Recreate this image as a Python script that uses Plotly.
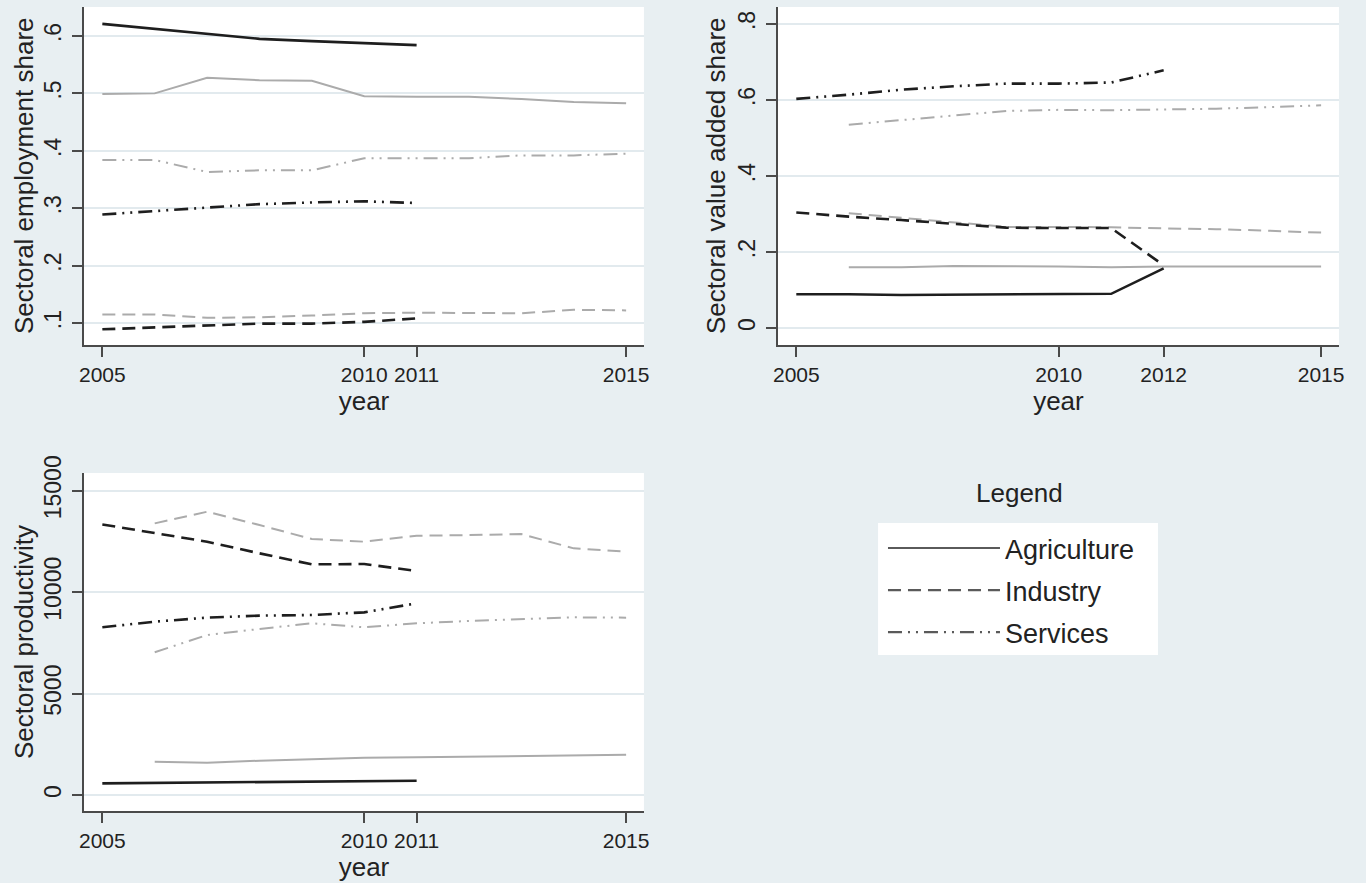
import plotly.graph_objects as go

# ---------------- data ----------------
years_a_emp = [2005, 2006, 2007, 2008, 2009, 2010, 2011]
years_b_emp = [2005, 2006, 2007, 2008, 2009, 2010, 2011, 2012, 2013, 2014, 2015]
emp_agri_a = [0.621, 0.612, 0.603, 0.595, 0.591, 0.587, 0.584]
emp_ind_a = [0.089, 0.092, 0.095, 0.099, 0.099, 0.102, 0.108]
emp_serv_a = [0.289, 0.295, 0.301, 0.307, 0.310, 0.312, 0.309]
emp_agri_b = [0.499, 0.500, 0.527, 0.523, 0.522, 0.495, 0.494, 0.494, 0.490, 0.485, 0.483]
emp_ind_b = [0.115, 0.115, 0.109, 0.110, 0.113, 0.117, 0.118, 0.118, 0.117, 0.123, 0.122]
emp_serv_b = [0.384, 0.384, 0.363, 0.366, 0.366, 0.387, 0.387, 0.387, 0.392, 0.392, 0.395]

years_a_va = [2005, 2006, 2007, 2008, 2009, 2010, 2011, 2012]
years_b_va = [2006, 2007, 2008, 2009, 2010, 2011, 2012, 2013, 2014, 2015]
va_agri_a = [0.089, 0.089, 0.087, 0.088, 0.089, 0.090, 0.090, 0.157]
va_ind_a = [0.304, 0.293, 0.284, 0.274, 0.264, 0.263, 0.263, 0.165]
va_serv_a = [0.603, 0.614, 0.627, 0.636, 0.643, 0.643, 0.646, 0.678]
va_agri_b = [0.160, 0.160, 0.163, 0.163, 0.162, 0.160, 0.162, 0.162, 0.162, 0.162]
va_ind_b = [0.302, 0.290, 0.277, 0.266, 0.266, 0.265, 0.262, 0.260, 0.256, 0.251]
va_serv_b = [0.535, 0.547, 0.560, 0.571, 0.574, 0.573, 0.575, 0.577, 0.581, 0.586]

years_a_prod = [2005, 2006, 2007, 2008, 2009, 2010, 2011]
years_b_prod = [2006, 2007, 2008, 2009, 2010, 2011, 2012, 2013, 2014, 2015]
prod_agri_a = [575, 591, 608, 624, 640, 657, 706]
prod_ind_a = [13340, 12898, 12488, 11913, 11371, 11388, 11043]
prod_serv_a = [8268, 8547, 8744, 8842, 8875, 9006, 9450]
prod_agri_b = [1642, 1593, 1691, 1757, 1839, 1856, 1888, 1921, 1954, 1987]
prod_ind_b = [13391, 13966, 13309, 12619, 12488, 12783, 12816, 12865, 12159, 11995]
prod_serv_b = [7036, 7890, 8186, 8465, 8268, 8465, 8580, 8679, 8760, 8744]

sectors = ["Agriculture", "Industry", "Services"]

emp_ticks = [0.1, 0.2, 0.3, 0.4, 0.5, 0.6]
emp_ticklabels = [".1", ".2", ".3", ".4", ".5", ".6"]
va_ticks = [0, 0.2, 0.4, 0.6, 0.8]
va_ticklabels = ["0", ".2", ".4", ".6", ".8"]
prod_ticks = [0, 5000, 10000, 15000]
prod_ticklabels = ["0", "5000", "10000", "15000"]
xticks_1 = [2005, 2010, 2011, 2015]
xticks_2 = [2005, 2010, 2012, 2015]

y_titles = ["Sectoral employment share", "Sectoral value added share", "Sectoral productivity"]

# ---------------- styles ----------------
FONT = "Liberation Sans, Arial, sans-serif"
BG = "#e8eff2"
GRID = "#e2eaee"
AXIS = "#4a4a4a"
DARK = "#1e1e1e"
LIGHT = "#ababab"
TEXT = "#222222"
DASHES = {
    "Agriculture": "solid",
    "Industry": "13px,7px",
    "Services": "14px,6px,2px,6px,2px,6px",
}

fig = go.Figure()


def add_series(xs, ys, sector, color, width, axis_suffix):
    fig.add_trace(go.Scatter(
        x=xs, y=ys, mode="lines",
        line=dict(color=color, width=width, dash=DASHES[sector]),
        xaxis="x" + axis_suffix, yaxis="y" + axis_suffix,
        showlegend=False, hoverinfo="x+y", name=sector,
    ))


# panel 1: employment share
add_series(years_a_emp, emp_agri_a, "Agriculture", DARK, 2.6, "")
add_series(years_b_emp, emp_agri_b, "Agriculture", LIGHT, 2, "")
add_series(years_b_emp, emp_serv_b, "Services", LIGHT, 2, "")
add_series(years_a_emp, emp_serv_a, "Services", DARK, 2.6, "")
add_series(years_b_emp, emp_ind_b, "Industry", LIGHT, 2, "")
add_series(years_a_emp, emp_ind_a, "Industry", DARK, 2.6, "")

# panel 2: value added share
add_series(years_b_va, va_serv_b, "Services", LIGHT, 2, "2")
add_series(years_a_va, va_serv_a, "Services", DARK, 2.6, "2")
add_series(years_b_va, va_ind_b, "Industry", LIGHT, 2, "2")
add_series(years_a_va, va_ind_a, "Industry", DARK, 2.6, "2")
add_series(years_b_va, va_agri_b, "Agriculture", LIGHT, 2, "2")
add_series(years_a_va, va_agri_a, "Agriculture", DARK, 2.6, "2")

# panel 3: productivity
add_series(years_b_prod, prod_ind_b, "Industry", LIGHT, 2, "3")
add_series(years_a_prod, prod_ind_a, "Industry", DARK, 2.6, "3")
add_series(years_a_prod, prod_serv_a, "Services", DARK, 2.6, "3")
add_series(years_b_prod, prod_serv_b, "Services", LIGHT, 2, "3")
add_series(years_b_prod, prod_agri_b, "Agriculture", LIGHT, 2, "3")
add_series(years_a_prod, prod_agri_a, "Agriculture", DARK, 2.6, "3")

# legend entries
for s in sectors:
    fig.add_trace(go.Scatter(
        x=[None], y=[None], mode="lines", name=s,
        line=dict(color="#5a5a5a", width=2.2, dash=DASHES[s]),
        xaxis="x3", yaxis="y3", showlegend=True, legendgroup=s,
    ))

xtickfont = dict(family=FONT, size=21, color=TEXT)
ytickfont = dict(family=FONT, size=23, color=TEXT)
titlefont = dict(family=FONT, size=26, color=TEXT)


def xaxis(domain, anchor, ticks):
    return dict(
        domain=domain, anchor=anchor, range=[2004.65, 2015.34],
        tickmode="array", tickvals=ticks, ticktext=[str(t) for t in ticks],
        ticks="outside", ticklen=10, tickwidth=1.5, tickcolor=AXIS,
        showline=True, linecolor=AXIS, linewidth=1.5,
        showgrid=False, zeroline=False, tickfont=xtickfont,
        title=dict(text="year", font=titlefont, standoff=0),
        ticklabelstandoff=0, automargin=False,
    )


def yaxis(domain, anchor, rng, ticks, labels):
    return dict(
        domain=domain, anchor=anchor, range=rng,
        tickmode="array", tickvals=ticks, ticktext=labels, tickangle=-90,
        ticks="outside", ticklen=10, tickwidth=1.5, tickcolor=AXIS,
        showline=True, linecolor=AXIS, linewidth=1.5,
        showgrid=True, gridcolor=GRID, gridwidth=2, zeroline=False,
        tickfont=ytickfont, ticklabelstandoff=2, automargin=False,
    )


y_domains = [[0.6093, 0.9921], [0.6093, 0.9921], [0.0815, 0.4643]]
y_title_x = [24 / 1366, 716 / 1366, 24 / 1366]

annotations = [dict(
    text="Legend", x=0.746, y=0.4417, xref="paper", yref="paper",
    showarrow=False, font=dict(family=FONT, size=26, color=TEXT),
    xanchor="center", yanchor="middle",
)]
for t, xp, dom in zip(y_titles, y_title_x, y_domains):
    annotations.append(dict(
        text=t, x=xp, y=(dom[0] + dom[1]) / 2, xref="paper", yref="paper",
        showarrow=False, textangle=-90, font=titlefont,
        xanchor="center", yanchor="middle",
    ))

fig.update_layout(
    width=1366, height=883,
    margin=dict(l=0, r=0, t=0, b=0),
    paper_bgcolor=BG, plot_bgcolor="white",
    font=dict(family=FONT, color=TEXT),
    xaxis=xaxis([0.0615, 0.4714], "y", xticks_1),
    yaxis=yaxis(y_domains[0], "x", [0.0617, 0.6505], emp_ticks, emp_ticklabels),
    xaxis2=xaxis([0.5695, 0.9802], "y2", xticks_2),
    yaxis2=yaxis(y_domains[1], "x2", [-0.0447, 0.8447], va_ticks, va_ticklabels),
    xaxis3=xaxis([0.0615, 0.4714], "y3", xticks_1),
    yaxis3=yaxis(y_domains[2], "x3", [-789, 15873], prod_ticks, prod_ticklabels),
    legend=dict(
        x=0.6464, y=0.4066, xanchor="left", yanchor="top",
        bgcolor="rgba(0,0,0,0)", borderwidth=0,
        font=dict(family=FONT, size=27, color=TEXT),
        itemwidth=112, traceorder="grouped", tracegroupgap=4,
    ),
    shapes=[dict(
        type="rect", xref="paper", yref="paper",
        x0=0.6428, x1=0.8477, y0=0.2582, y1=0.4077,
        fillcolor="white", line=dict(width=0), layer="below",
    )],
    annotations=annotations,
)

fig.write_html("out.html")
